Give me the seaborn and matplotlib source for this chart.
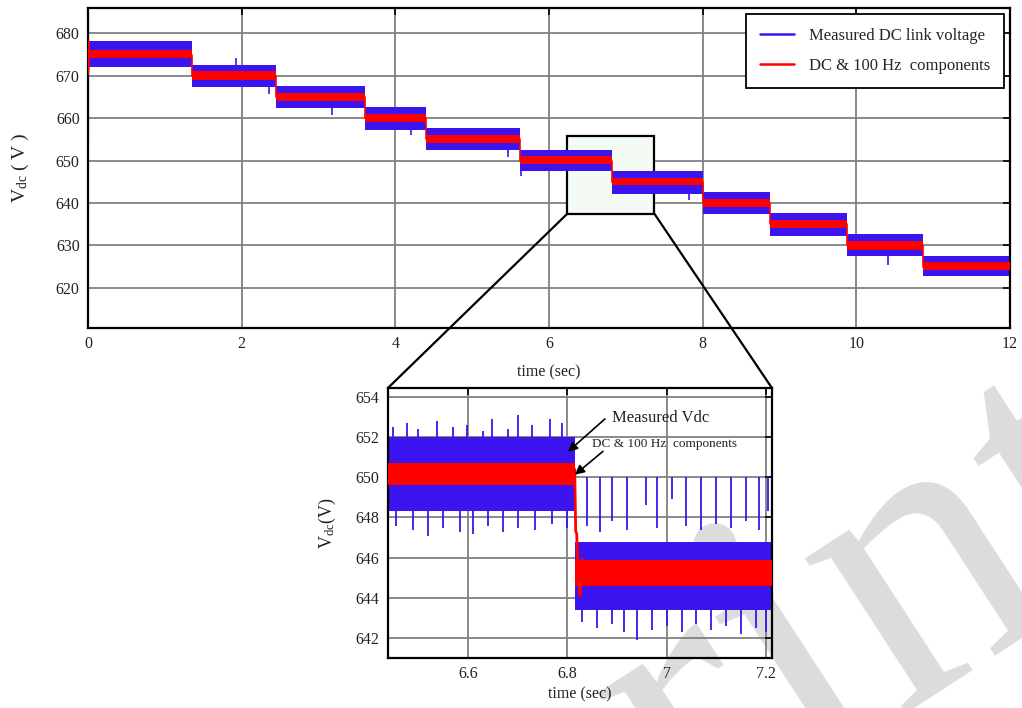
import matplotlib
matplotlib.use("Agg")
import matplotlib.pyplot as plt
import seaborn as sns
from matplotlib.lines import Line2D
from matplotlib.patches import Rectangle, ConnectionPatch

# --- step data of the full run ---
seg_t = [0.0, 1.355, 2.45, 3.60, 4.40, 5.62, 6.82, 8.01, 8.87, 9.88, 10.87, 12.0]
seg_v = [675, 670, 665, 660, 655, 650, 645, 640, 635, 630, 625]
blue_up = [678.2, 672.6, 667.6, 662.6, 657.6, 652.6, 647.6, 642.6, 637.6, 632.7, 627.4]
blue_dn = [672.0, 667.3, 662.4, 657.3, 652.4, 647.6, 642.2, 637.4, 632.3, 627.5, 622.7]
red_up = [676.2, 671.1, 666.0, 661.0, 656.1, 651.0, 646.0, 641.0, 636.0, 631.0, 626.0]
red_dn = [674.2, 669.0, 664.1, 659.0, 654.1, 649.1, 644.2, 639.1, 634.1, 629.0, 624.1]

# a few spikes sticking out of the measured band
spike_t = [0.01, 1.92, 2.35, 3.17, 4.20, 5.46, 5.63, 7.82, 8.03, 10.41]
spike_v = [677.5, 674.3, 665.8, 660.8, 656.0, 650.8, 646.3, 640.6, 637.8, 625.3]
spike_base = [675, 670, 670, 665, 660, 655, 650, 645, 640, 630]

# start-up transient of the filtered signal
start_t = [0.0, 0.0, 0.004, 0.008, 0.012]
start_v = [654.3, 687.0, 672.0, 678.0, 675.5]

# --- zoomed window ---
in_t = [6.439, 6.815, 7.212]
in_blue_up = [652.0, 646.8]
in_blue_dn = [648.3, 643.4]
in_red_up = [650.7, 645.9]
in_red_dn = [649.6, 644.6]

in_spk_up_t = [6.449, 6.477, 6.50, 6.538, 6.57, 6.598, 6.63, 6.648, 6.68, 6.701, 6.73, 6.765, 6.79,
               6.84, 6.865, 6.89, 6.92, 6.959, 6.98, 7.010, 7.04, 7.07, 7.10, 7.13, 7.16, 7.185, 7.204]
in_spk_up_v = [652.5, 652.7, 652.4, 652.8, 652.5, 652.6, 652.3, 652.9, 652.4, 653.1, 652.6, 652.9, 652.7,
               647.6, 647.3, 647.8, 647.4, 648.6, 647.5, 648.9, 647.6, 647.4, 647.7, 647.5, 647.8, 647.4, 648.3]
in_spk_dn_t = [6.455, 6.49, 6.52, 6.55, 6.585, 6.61, 6.64, 6.67, 6.70, 6.735, 6.77, 6.80,
               6.83, 6.86, 6.89, 6.915, 6.94, 6.97, 7.0, 7.03, 7.06, 7.09, 7.12, 7.15, 7.18, 7.20]
in_spk_dn_v = [647.6, 647.4, 647.1, 647.5, 647.3, 647.2, 647.6, 647.3, 647.5, 647.4, 647.7, 647.5,
               642.8, 642.5, 642.7, 642.3, 641.9, 642.4, 642.6, 642.3, 642.7, 642.4, 642.6, 642.2, 642.5, 642.3]

tr_t = [6.815, 6.817, 6.819, 6.822, 6.826, 6.829, 6.832]
tr_v = [650.4, 647.3, 647.2, 645.0, 644.1, 645.9, 645.2]

BLUE = "#3c14f0"
RED = "#ff0000"

sns.set_theme(style="whitegrid")
plt.rcParams["font.family"] = ["Liberation Serif", "DejaVu Serif"]
plt.rcParams["mathtext.fontset"] = "custom"
plt.rcParams["mathtext.rm"] = "Liberation Serif"
plt.rcParams["mathtext.it"] = "Liberation Serif:italic"

fig = plt.figure(figsize=(10.22, 7.08), dpi=100)
ax = fig.add_axes([0.0861, 0.5367, 0.9022, 0.452])
ax_in = fig.add_axes([0.3796, 0.0706, 0.3757, 0.3814])


def style_axes(a):
    a.patch.set_alpha(0)
    a.grid(True, color="#808080", lw=1.3)
    a.set_axisbelow(True)
    for s in a.spines.values():
        s.set_color("black")
        s.set_linewidth(1.6)
    a.tick_params(direction="in", length=5, width=1.2, color="black",
                  top=True, right=True, labelsize=11.5, labelcolor="#222222", pad=6)


# ---- main plot ----
ax.fill_between(seg_t, blue_dn + [blue_dn[-1]], blue_up + [blue_up[-1]],
                step="post", color=BLUE, lw=0, zorder=2)
ax.vlines(spike_t, spike_base, spike_v, color=BLUE, lw=1.2, zorder=2)
ax.fill_between(seg_t, red_dn + [red_dn[-1]], red_up + [red_up[-1]],
                step="post", color=RED, lw=0, zorder=3)
sns.lineplot(x=seg_t, y=seg_v + [seg_v[-1]], drawstyle="steps-post", color=RED,
             lw=1.2, ax=ax, zorder=3)
sns.lineplot(x=start_t, y=start_v, sort=False, color=RED, lw=2, ax=ax, zorder=3)

zoom_box = Rectangle((6.24, 637.5), 1.13, 18.2, facecolor="#f4fbf4",
                     edgecolor="black", lw=1.6, zorder=1)
ax.add_patch(zoom_box)

ax.set_xlim(0, 12)
ax.set_ylim(610.5, 686)
ax.set_xticks(range(0, 13, 2))
ax.set_yticks(range(620, 681, 10))
ax.set_xlabel("time (sec)", fontsize=11.5, labelpad=9, color="#222222")
ax.set_ylabel(r"$\mathrm{V_{dc}}$ ( V )", fontsize=14, labelpad=18, color="#222222")
style_axes(ax)

handles = [Line2D([], [], color=BLUE, lw=1.8), Line2D([], [], color=RED, lw=1.8)]
leg = ax.legend(handles, ["Measured DC link voltage", "DC & 100 Hz  components"],
                loc="upper right", fontsize=12.0, fancybox=False, framealpha=1,
                edgecolor="black", borderpad=0.85, labelspacing=0.85,
                handlelength=2.0, handletextpad=0.9, borderaxespad=0.35)
leg.get_frame().set_linewidth(1.3)

# ---- zoomed plot ----
ax_in.fill_between(in_t, in_blue_dn + [in_blue_dn[-1]], in_blue_up + [in_blue_up[-1]],
                   step="post", color=BLUE, lw=0, zorder=2)
ax_in.vlines(in_spk_up_t, 650, in_spk_up_v, color=BLUE, lw=1.3, zorder=2)
ax_in.vlines(in_spk_dn_t, [650 if t < 6.815 else 645 for t in in_spk_dn_t],
             in_spk_dn_v, color=BLUE, lw=1.3, zorder=2)
ax_in.fill_between(in_t, in_red_dn + [in_red_dn[-1]], in_red_up + [in_red_up[-1]],
                   step="post", color=RED, lw=0, zorder=3)
sns.lineplot(x=tr_t, y=tr_v, sort=False, color=RED, lw=2, ax=ax_in, zorder=3)

ax_in.set_xlim(6.439, 7.212)
ax_in.set_ylim(641.0, 654.45)
ax_in.set_xticks([6.6, 6.8, 7.0, 7.2])
ax_in.set_xticklabels(["6.6", "6.8", "7", "7.2"])
ax_in.set_yticks(range(642, 655, 2))
ax_in.set_xlabel("time (sec)", fontsize=11.5, labelpad=3, color="#222222")
ax_in.set_ylabel(r"$\mathrm{V_{dc}}$(V)", fontsize=13, labelpad=13, color="#222222")
style_axes(ax_in)

arrow = dict(arrowstyle="-|>", color="black", lw=1.2, mutation_scale=14)
ax_in.annotate("", xy=(6.797, 651.18), xytext=(6.880, 653.0), arrowprops=arrow, zorder=5)
ax_in.text(6.890, 652.96, "Measured Vdc", fontsize=12, va="center", ha="left", color="#222222")
ax_in.annotate("", xy=(6.811, 650.04), xytext=(6.876, 651.38), arrowprops=arrow, zorder=5)
ax_in.text(6.850, 651.67, "DC & 100 Hz  components", fontsize=9.5, va="center", ha="left",
           color="#222222")

# lines from the zoom box to the zoomed axes
for xa, xb in [(6.24, 6.439), (7.37, 7.212)]:
    con = ConnectionPatch(xyA=(xa, 637.5), coordsA=ax.transData,
                          xyB=(xb, 654.45), coordsB=ax_in.transData,
                          color="black", lw=1.6)
    fig.add_artist(con)

# faint watermark, behind the plots
fig.text(1.135, 0.235, "Preprint", fontsize=290, color="#dcdcdc", rotation=33,
         rotation_mode="anchor", ha="right", va="baseline", zorder=-1)

fig.savefig("out.png", dpi=100)
